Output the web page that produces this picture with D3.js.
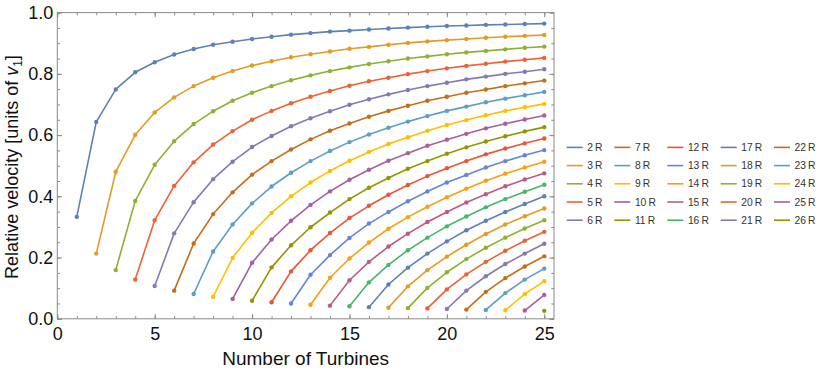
<!DOCTYPE html>
<html lang="en">
  <head>
    <meta charset="UTF-8" />
    <title>relativeVelocity</title>
    <script src="https://d3js.org/d3.v7.min.js"></script>
    <style>
      body { margin: 0; background: #fff; }
      text { font-family: "Liberation Sans", Arial, sans-serif; }
    </style>
  </head>

  <body>
    <svg id="chart" width="822" height="371"></svg>
    <script>
      // series labels (spacing in rotor radii) and the first turbine count each series has
      const seriesLabels = ["2", "3", "4", "5", "6", "7", "8", "9", "10", "11", "12", "13", "14",
        "15", "16", "17", "18", "19", "20", "21", "22", "23", "24", "25", "26"];
      const firstTurbine = [1, 2, 3, 4, 5, 6, 7, 8, 9, 10, 11, 12, 13, 14, 15, 16, 17, 18, 19, 20,
        21, 22, 23, 24, 25];

      // relative velocity, one row per series, from firstTurbine up to 25 turbines
      const velocity = [
        [0.333, 0.643, 0.749, 0.805, 0.838, 0.863, 0.881, 0.895, 0.905, 0.914, 0.921, 0.928, 0.933,
          0.938, 0.941, 0.945, 0.948, 0.951, 0.954, 0.956, 0.958, 0.960, 0.961, 0.963, 0.964],
        [0.213, 0.480, 0.601, 0.674, 0.723, 0.760, 0.787, 0.809, 0.827, 0.841, 0.854, 0.864, 0.873,
          0.882, 0.888, 0.895, 0.901, 0.906, 0.910, 0.914, 0.918, 0.921, 0.924, 0.927],
        [0.159, 0.385, 0.503, 0.580, 0.636, 0.678, 0.712, 0.738, 0.760, 0.779, 0.795, 0.809, 0.821,
          0.832, 0.841, 0.850, 0.857, 0.864, 0.870, 0.875, 0.880, 0.885, 0.889],
        [0.128, 0.322, 0.434, 0.511, 0.569, 0.613, 0.650, 0.679, 0.704, 0.725, 0.744, 0.761, 0.776,
          0.787, 0.799, 0.809, 0.818, 0.826, 0.833, 0.840, 0.846, 0.852],
        [0.107, 0.279, 0.381, 0.456, 0.513, 0.561, 0.597, 0.629, 0.655, 0.678, 0.699, 0.717, 0.733,
          0.747, 0.760, 0.771, 0.782, 0.791, 0.800, 0.807, 0.815],
        [0.092, 0.246, 0.342, 0.413, 0.471, 0.515, 0.553, 0.586, 0.614, 0.638, 0.660, 0.679, 0.696,
          0.712, 0.725, 0.738, 0.749, 0.760, 0.769, 0.778],
        [0.081, 0.220, 0.308, 0.377, 0.432, 0.477, 0.515, 0.548, 0.577, 0.602, 0.624, 0.644, 0.662,
          0.679, 0.693, 0.707, 0.719, 0.730, 0.741],
        [0.072, 0.199, 0.281, 0.346, 0.400, 0.445, 0.483, 0.516, 0.545, 0.571, 0.593, 0.614, 0.633,
          0.649, 0.665, 0.679, 0.691, 0.702],
        [0.065, 0.183, 0.259, 0.320, 0.372, 0.416, 0.454, 0.487, 0.516, 0.541, 0.565, 0.585, 0.604,
          0.622, 0.637, 0.651, 0.664],
        [0.059, 0.168, 0.240, 0.299, 0.347, 0.391, 0.428, 0.460, 0.490, 0.515, 0.539, 0.560, 0.579,
          0.596, 0.612, 0.626],
        [0.054, 0.155, 0.224, 0.280, 0.329, 0.369, 0.405, 0.437, 0.466, 0.492, 0.515, 0.537, 0.556,
          0.573, 0.589],
        [0.050, 0.144, 0.208, 0.264, 0.311, 0.349, 0.384, 0.416, 0.445, 0.470, 0.494, 0.515, 0.534,
          0.551],
        [0.046, 0.134, 0.197, 0.249, 0.294, 0.332, 0.366, 0.397, 0.425, 0.451, 0.474, 0.494, 0.513],
        [0.043, 0.126, 0.186, 0.236, 0.278, 0.316, 0.349, 0.380, 0.407, 0.433, 0.455, 0.475],
        [0.041, 0.119, 0.176, 0.224, 0.265, 0.302, 0.334, 0.364, 0.391, 0.415, 0.438],
        [0.038, 0.112, 0.167, 0.213, 0.253, 0.289, 0.320, 0.349, 0.375, 0.400],
        [0.036, 0.106, 0.159, 0.203, 0.242, 0.277, 0.308, 0.335, 0.360],
        [0.035, 0.101, 0.152, 0.195, 0.232, 0.265, 0.295, 0.322],
        [0.034, 0.096, 0.145, 0.186, 0.222, 0.255, 0.284],
        [0.032, 0.092, 0.139, 0.179, 0.213, 0.245],
        [0.030, 0.088, 0.133, 0.171, 0.204],
        [0.029, 0.084, 0.128, 0.164],
        [0.028, 0.081, 0.123],
        [0.027, 0.078],
        [0.026],
      ];

      const xMajorTicks = [0, 5, 10, 15, 20, 25];
      const xMinorTicks = d3.range(0, 26);
      const yMajorTicks = [0, 0.2, 0.4, 0.6, 0.8, 1.0];
      const yMinorTicks = [0, 0.05, 0.1, 0.15, 0.2, 0.25, 0.3, 0.35, 0.4, 0.45, 0.5, 0.55, 0.6,
        0.65, 0.7, 0.75, 0.8, 0.85, 0.9, 0.95, 1.0];

      // Mathematica "97" palette, cycles after 15
      const palette = ["#5E81B5", "#E19C24", "#8FB032", "#EB6235", "#8778B3", "#C56E1A", "#5D9EC7",
        "#FFBF00", "#A5609D", "#929600", "#E95536", "#6685D9", "#F89F13", "#BC5B80", "#47B66D"];

      const svg = d3.select("#chart");
      const frame = { left: 57.3, right: 554, top: 12.6, bottom: 318.8 };

      const x = d3.scaleLinear().domain([0, 25.5]).range([frame.left, frame.right]);
      const y = d3.scaleLinear().domain([0, 1]).range([frame.bottom, frame.top]);

      const series = velocity.map((vals, i) => ({
        label: seriesLabels[i] + "\u2009R",
        color: palette[i % palette.length],
        points: vals.map((v, j) => ({ n: firstTurbine[i] + j, v: v })),
      }));

      // frame + ticks (inward, all four sides)
      const frameColor = "#8a8a8a";
      const addAxis = (axis, tx, ty) => {
        const g = svg.append("g").attr("transform", `translate(${tx},${ty})`).call(axis);
        g.select(".domain").remove();
        g.selectAll("line").attr("stroke", frameColor);
        g.selectAll("text")
          .attr("font-size", 18)
          .attr("fill", "#111")
          .style("font-family", '"Liberation Sans", Arial, sans-serif');
        return g;
      };

      addAxis(d3.axisBottom(x).tickValues(xMinorTicks).tickSize(-2.7).tickFormat(""), 0, frame.bottom);
      addAxis(d3.axisBottom(x).tickValues(xMajorTicks).tickSize(-4.7).tickPadding(8)
        .tickFormat(d3.format("d")), 0, frame.bottom);
      addAxis(d3.axisTop(x).tickValues(xMinorTicks).tickSize(-2.7).tickFormat(""), 0, frame.top);
      addAxis(d3.axisTop(x).tickValues(xMajorTicks).tickSize(-4.7).tickFormat(""), 0, frame.top);

      addAxis(d3.axisLeft(y).tickValues(yMinorTicks).tickSize(-2.7).tickFormat(""), frame.left, 0);
      addAxis(d3.axisLeft(y).tickValues(yMajorTicks).tickSize(-4.7).tickPadding(4)
        .tickFormat(d3.format(".1f")), frame.left, 0);
      addAxis(d3.axisRight(y).tickValues(yMinorTicks).tickSize(-2.7).tickFormat(""), frame.right, 0);
      addAxis(d3.axisRight(y).tickValues(yMajorTicks).tickSize(-4.7).tickFormat(""), frame.right, 0);

      svg.append("rect")
        .attr("x", frame.left)
        .attr("y", frame.top)
        .attr("width", frame.right - frame.left)
        .attr("height", frame.bottom - frame.top)
        .attr("fill", "none")
        .attr("stroke", frameColor)
        .attr("stroke-width", 1);

      // lines and points
      const line = d3.line().x((d) => x(d.n)).y((d) => y(d.v));
      const plot = svg.append("g");

      plot.selectAll("path.series")
        .data(series)
        .join("path")
        .attr("class", "series")
        .attr("d", (d) => line(d.points))
        .attr("fill", "none")
        .attr("stroke", (d) => d.color)
        .attr("stroke-width", 1.6)
        .attr("stroke-linejoin", "round");

      plot.selectAll("g.pts")
        .data(series)
        .join("g")
        .attr("class", "pts")
        .attr("fill", (d) => d.color)
        .selectAll("circle")
        .data((d) => d.points)
        .join("circle")
        .attr("cx", (d) => x(d.n))
        .attr("cy", (d) => y(d.v))
        .attr("r", 2.2);

      // axis titles
      svg.append("text")
        .attr("x", (frame.left + frame.right) / 2)
        .attr("y", 365)
        .attr("text-anchor", "middle")
        .attr("font-size", 19)
        .attr("fill", "#111")
        .text("Number of Turbines");

      const yTitle = svg.append("text")
        .attr("transform", "translate(17.5,167) rotate(-90)")
        .attr("text-anchor", "middle")
        .attr("font-size", 18)
        .attr("fill", "#111");
      yTitle.append("tspan").text("Relative velocity [units of ");
      yTitle.append("tspan").attr("font-style", "italic").text("v");
      yTitle.append("tspan").attr("font-size", 12).attr("dy", 4).text("1");
      yTitle.append("tspan").attr("dy", -4).text("]");

      // legend, 5 columns x 5 rows, column-major
      const legendCols = [566.7, 614.3, 667.3, 720.7, 774];
      const legendTop = 147.4;
      const legendRowGap = 18.2;

      const legend = svg.append("g")
        .selectAll("g")
        .data(series)
        .join("g")
        .attr("transform", (d, i) =>
          `translate(${legendCols[Math.floor(i / 5)]},${legendTop + (i % 5) * legendRowGap})`);

      legend.append("line")
        .attr("x1", 0)
        .attr("x2", 16)
        .attr("stroke", (d) => d.color)
        .attr("stroke-width", 1.6);

      legend.append("text")
        .attr("x", 20.6)
        .attr("dy", "0.35em")
        .attr("font-size", 10.3)
        .attr("fill", "#333")
        .text((d) => d.label);
    </script>
  </body>
</html>
